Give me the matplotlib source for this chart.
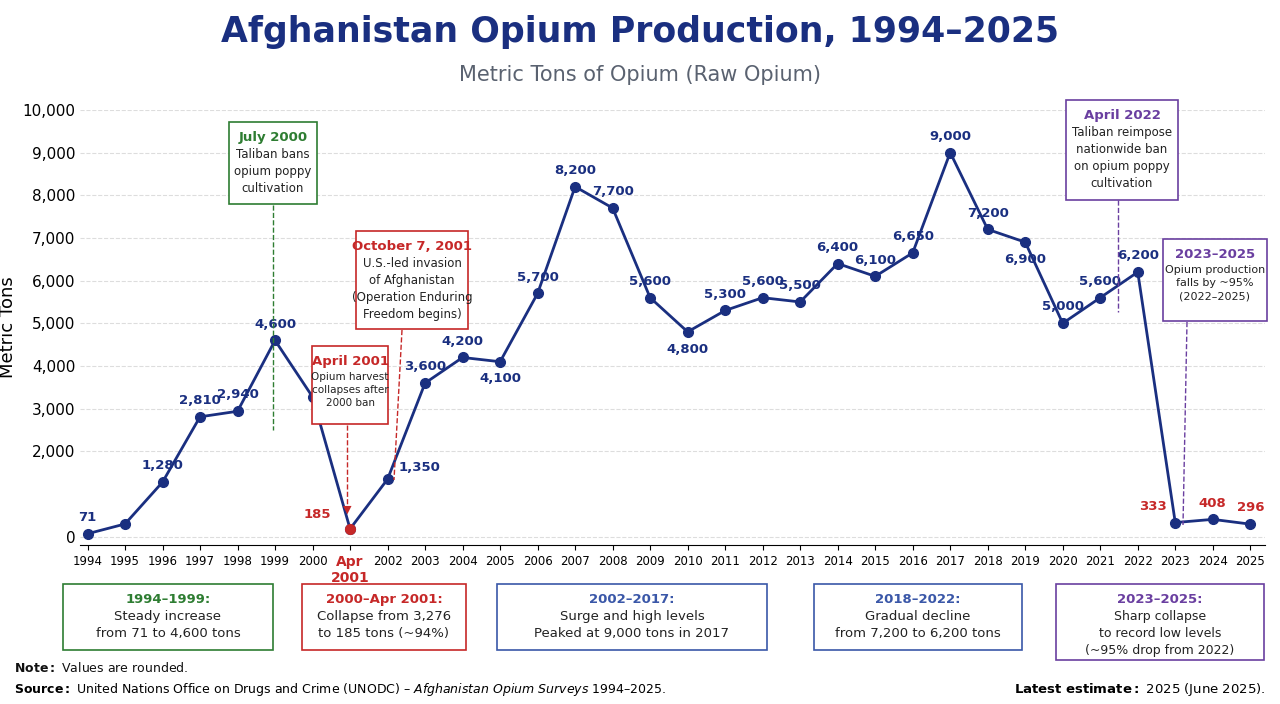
import matplotlib.pyplot as plt
from matplotlib.patches import Rectangle

years = ["1994", "1995", "1996", "1997", "1998", "1999", "2000", "Apr\n2001", "2002", "2003",
         "2004", "2005", "2006", "2007", "2008", "2009", "2010", "2011", "2012", "2013", "2014",
         "2015", "2016", "2017", "2018", "2019", "2020", "2021", "2022", "2023", "2024", "2025"]
tons = [71, 300, 1280, 2810, 2940, 4600, 3276, 185, 1350, 3600, 4200, 4100, 5700, 8200, 7700,
        5600, 4800, 5300, 5600, 5500, 6400, 6100, 6650, 9000, 7200, 6900, 5000, 5600, 6200,
        333, 408, 296]
labels = ["71", "", "1,280", "2,810", "2,940", "4,600", "3,276", "185", "1,350", "3,600", "4,200",
          "4,100", "5,700", "8,200", "7,700", "5,600", "4,800", "5,300", "5,600", "5,500", "6,400",
          "6,100", "6,650", "9,000", "7,200", "6,900", "5,000", "5,600", "6,200", "333", "408", "296"]
red_idx = [7, 29, 30, 31]
below_idx = [11, 16, 25]

NAVY = "#1a2f80"
GREEN = "#2e7d32"
RED = "#c62828"
BLUE = "#3a57a8"
PURPLE = "#6a3fa0"

fig = plt.figure(figsize=(12.8, 7.04), dpi=100)
ax = fig.add_axes([0.0625, 0.226, 0.926, 0.618])
x = list(range(len(tons)))
ax.plot(x, tons, color=NAVY, lw=2, marker="o", ms=7, zorder=3)
ax.plot(7, tons[7], "o", color=RED, ms=7, zorder=4)
ax.set_xlim(-0.2, 31.4)
ax.set_ylim(-190, 10000)
ax.set_yticks([0, 2000, 3000, 4000, 5000, 6000, 7000, 8000, 9000, 10000])
ax.set_yticklabels([f"{v:,}" for v in ax.get_yticks()], fontsize=11)
ax.set_xticks(x)
ax.set_xticklabels(years, fontsize=8.5)
for t in ax.get_xticklabels()[7:8]:
    t.set_color(RED); t.set_fontweight("bold"); t.set_fontsize(10)
ax.set_ylabel("Metric Tons", fontsize=13)
ax.grid(axis="y", ls="--", color="#dddddd")
for s in ["top", "right", "left"]:
    ax.spines[s].set_visible(False)
ax.tick_params(axis="y", length=0)

for i, (v, lab) in enumerate(zip(tons, labels)):
    if not lab:
        continue
    col = RED if i in red_idx else NAVY
    if i == 7:
        ax.text(i - 0.5, v + 250, lab, color=col, fontsize=9.5, weight="bold", ha="right")
    elif i in below_idx:
        ax.text(i, v - 250, lab, color=col, fontsize=9.5, weight="bold", ha="center", va="top")
    elif i in (6, 8):
        ax.text(i + 0.3, v + 200, lab, color=col, fontsize=9.5, weight="bold", ha="left")
    else:
        dx = -0.6 if i == 29 else 0
        ax.text(i + dx, v + 300, lab, color=col, fontsize=9.5, weight="bold", ha="center")


def fx(px):
    return px / 1280


def fy(py):
    return 1 - py / 704


def box(cx, cy, w, h, col, head, body, hsize=9.5, bsize=8.5):
    fig.patches.append(Rectangle((fx(cx - w / 2), fy(cy + h / 2)), w / 1280, h / 704,
                                 transform=fig.transFigure, fc="white", ec=col, lw=1.2,
                                 zorder=5))
    top = cy - h / 2
    fig.text(fx(cx), fy(top + 9), head, color=col, weight="bold", fontsize=hsize,
             ha="center", va="top", zorder=6)
    fig.text(fx(cx), fy(top + 26), body, color="#222222", fontsize=bsize, ha="center",
             va="top", linespacing=1.4, zorder=6)


def dash(x0, y0, x1, y1, col, arrow=False):
    fig.add_artist(plt.Line2D([fx(x0), fx(x1)], [fy(y0), fy(y1)], color=col, lw=1, ls="--"))
    if arrow:
        fig.text(fx(x1), fy(y1), "▼", color=col, fontsize=8, ha="center", va="center")


box(273, 163, 88, 82, GREEN, "July 2000", "Taliban bans\nopium poppy\ncultivation")
dash(273, 205, 273, 430, GREEN)
box(412, 280, 112, 98, RED, "October 7, 2001",
    "U.S.-led invasion\nof Afghanistan\n(Operation Enduring\nFreedom begins)")
dash(402, 330, 394, 480, RED)
box(350, 385, 76, 78, RED, "April 2001", "Opium harvest\ncollapses after\n2000 ban", bsize=7.5)
dash(347, 425, 347, 510, RED, arrow=True)
box(1122, 150, 112, 100, PURPLE, "April 2022",
    "Taliban reimpose\nnationwide ban\non opium poppy\ncultivation")
dash(1118, 200, 1118, 312, PURPLE)
box(1215, 280, 104, 82, PURPLE, "2023–2025", "Opium production\nfalls by ~95%\n(2022–2025)",
    bsize=8)
dash(1187, 322, 1183, 525, PURPLE)

box(168, 617, 210, 66, GREEN, "1994–1999:", "Steady increase\nfrom 71 to 4,600 tons",
    hsize=9.5, bsize=9.5)
box(384, 617, 164, 66, RED, "2000–Apr 2001:", "Collapse from 3,276\nto 185 tons (~94%)",
    hsize=9.5, bsize=9.5)
box(632, 617, 270, 66, BLUE, "2002–2017:", "Surge and high levels\nPeaked at 9,000 tons in 2017",
    hsize=9.5, bsize=9.5)
box(918, 617, 208, 66, BLUE, "2018–2022:", "Gradual decline\nfrom 7,200 to 6,200 tons",
    hsize=9.5, bsize=9.5)
box(1160, 622, 208, 76, PURPLE, "2023–2025:",
    "Sharp collapse\nto record low levels\n(~95% drop from 2022)", hsize=9.5, bsize=9)

fig.text(0.5, fy(32), "Afghanistan Opium Production, 1994–2025", ha="center", va="center",
         fontsize=25, weight="heavy", color=NAVY)
fig.text(0.5, fy(75), "Metric Tons of Opium (Raw Opium)", ha="center", va="center",
         fontsize=15, color="#5a6270")
fig.text(fx(14), fy(668), r"$\bf{Note:}$ Values are rounded.", fontsize=9, va="center",
         color="#111111")
fig.text(fx(14), fy(690), r"$\bf{Source:}$ United Nations Office on Drugs and Crime (UNODC) – "
         r"$\it{Afghanistan\ Opium\ Surveys\ 1994–2025}$.", fontsize=9, va="center")
fig.text(fx(1266), fy(690), r"$\bf{Latest\ estimate:}$ 2025 (June 2025).", fontsize=9.5,
         va="center", ha="right")

fig.savefig("out.png", dpi=100)
